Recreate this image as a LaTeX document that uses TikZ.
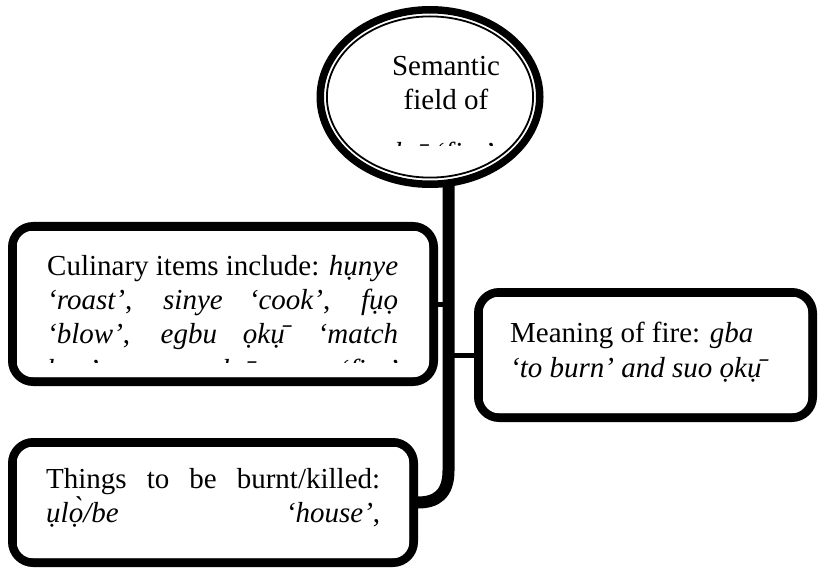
\documentclass[tikz,border=0pt]{standalone}
\usepackage{fontspec}
\setmainfont{Liberation Serif}
\usetikzlibrary{shapes.geometric,calc}
\pgfdeclarelayer{background}
\pgfsetlayers{background,main}
\begin{document}
\begin{tikzpicture}[x=1pt,y=-1pt,
  thickbox/.style={rectangle, draw, line width=8.5pt, fill=white, rounded corners=21pt, inner sep=0pt},
  thinbox/.style={draw, line width=2pt, rounded corners=14pt},
  ellbox/.style={ellipse, draw, line width=7.5pt, fill=white, inner sep=0pt},
  stemline/.style={line width=12pt},
  branch/.style={line width=5pt},
  txt/.style={inner sep=0pt, anchor=base west, font=\fontsize{29}{34}\selectfont},
  ctxt/.style={inner sep=0pt, anchor=base, font=\fontsize{29}{34}\selectfont}]
\useasboundingbox (0,0) rectangle (818,569);

% shapes
\node[ellbox, minimum width=219.5pt, minimum height=174.5pt] (ell) at (430,97) {};
\draw[line width=1.8pt] (ell.center) ellipse [x radius=103.1pt, y radius=80.6pt];

\node[thickbox, minimum width=421.5pt, minimum height=155.5pt] (lbox) at (223,304) {};
\draw[thinbox] ($(lbox.north west)+(7.75,7.75)$) rectangle ($(lbox.south east)+(-7.75,-7.75)$);

\node[thickbox, minimum width=334.5pt, minimum height=125.5pt] (rbox) at (645.5,355) {};
\draw[thinbox] ($(rbox.north west)+(7.75,7.75)$) rectangle ($(rbox.south east)+(-7.75,-7.75)$);

\node[thickbox, minimum width=401.5pt, minimum height=120.5pt] (bbox) at (213,502.5) {};
\draw[thinbox] ($(bbox.north west)+(7.75,7.75)$) rectangle ($(bbox.south east)+(-7.75,-7.75)$);

% connectors
\coordinate (jx) at (448.5,0);
\coordinate (stemtop) at ($(ell.south -| jx)+(0,-12)$);
\coordinate (stembend) at ($(jx |- bbox.east)+(0,-32)$);
\begin{pgfonlayer}{background}
\draw[stemline] (stemtop) -- (stembend)
  .. controls ($(jx |- bbox.east)+(0,-8)$) and ($(bbox.east)+(18,0)$) .. (bbox.east);
\draw[branch] (lbox.east) -- (lbox.east -| jx);
\draw[branch] (jx |- rbox.west) -- (rbox.west);
\end{pgfonlayer}

% ellipse text
\node[ctxt] (e1) at (446,76) {Semantic};
\node[ctxt] (e2) at (446,110) {field of};
\begin{scope}
\clip (320,120) rectangle (560,146);
\node[ctxt] (e3) at (438,163) {\textit{ọkụ̄} ‘fire’};
\end{scope}

% left box text
\node[txt] (l1) at (47,275) {\makebox[351pt][s]{Culinary items include: \textit{hụnye}}};
\node[txt] (l2) at (47,309) {\makebox[351pt][s]{\textit{‘roast’}, \textit{sinye} \textit{‘cook’}, \textit{fụọ}}};
\node[txt] (l3) at (47,343) {\makebox[351pt][s]{\textit{‘blow’}, \textit{egbu} \textit{ọkụ̄} \textit{‘match}}};
\begin{scope}
\clip (20,300) rectangle (430,362);
\node[txt] (l4) at (47,379) {\makebox[351pt][s]{\textit{box’}, \textit{ọkụ̄} \textit{‘fire’}}};
\end{scope}

% right box text
\node[txt] (r1) at (510,342) {Meaning of fire: \textit{gba}};
\node[txt] (r2) at (510,377) {\textit{‘to burn’ and suo ọkụ̄}};

% bottom box text
\node[txt] (b1) at (46,488) {\makebox[334pt][s]{Things to be burnt/killed:}};
\node[txt] (b2) at (46,522) {\makebox[334pt][s]{\textit{ụlọ̀/be} \textit{‘house’},}};
\end{tikzpicture}
\end{document}
